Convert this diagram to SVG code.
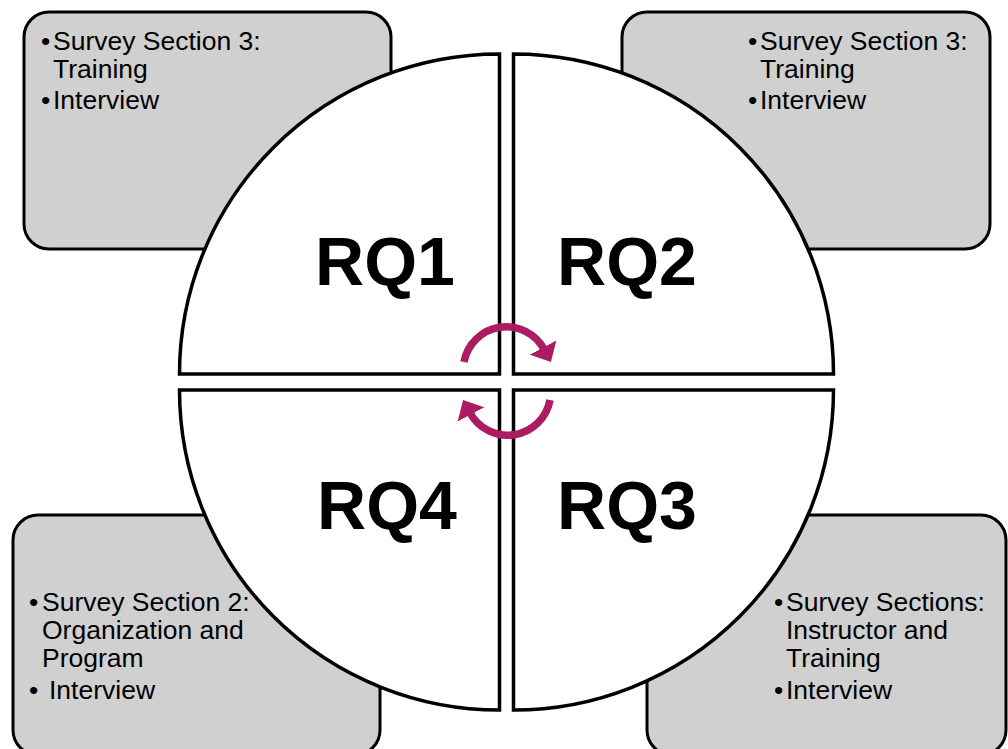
<svg xmlns="http://www.w3.org/2000/svg" width="1008" height="749" viewBox="0 0 1008 749">
<style>
.box{fill:#d0d0d0;stroke:#000;stroke-width:3}
.quad{fill:#fff;stroke:#000;stroke-width:3.5;stroke-linejoin:miter}
.t{font-family:"Liberation Sans",Arial,sans-serif;font-size:26.5px;fill:#000}
.rq{font-family:"Liberation Sans",Arial,sans-serif;font-size:68px;font-weight:bold;fill:#000;text-anchor:middle}
.arc{fill:none;stroke:#ab1c62;stroke-width:7.5}
</style>
<defs>
<marker id="ah" markerWidth="4" markerHeight="4" refX="0.3" refY="2" orient="auto" markerUnits="strokeWidth" viewBox="0 0 4 4">
<path d="M0,0 L2.2,2 L0,4 Z" fill="#ab1c62"/>
</marker>
</defs>
<g id="box-tl"><rect class="box" x="24" y="12" width="367" height="237" rx="25"/>
<text class="t" x="41" y="50">•<tspan x="53">Survey Section 3:</tspan></text>
<text class="t" x="53" y="78">Training</text>
<text class="t" x="41" y="109">•<tspan x="53">Interview</tspan></text></g>
<g id="box-tr"><rect class="box" x="622" y="12" width="368" height="237" rx="25"/>
<text class="t" x="748" y="50">•<tspan x="760">Survey Section 3:</tspan></text>
<text class="t" x="760" y="78">Training</text>
<text class="t" x="748" y="109">•<tspan x="760">Interview</tspan></text></g>
<g id="box-bl"><rect class="box" x="13" y="515" width="367" height="240" rx="25"/>
<text class="t" x="29" y="611">•<tspan x="42">Survey Section 2:</tspan></text>
<text class="t" x="42" y="639">Organization and</text>
<text class="t" x="42" y="667">Program</text>
<text class="t" x="29" y="699">•<tspan x="49">Interview</tspan></text></g>
<g id="box-br"><rect class="box" x="647" y="515" width="359" height="240" rx="25"/>
<text class="t" x="774" y="611">•<tspan x="786">Survey Sections:</tspan></text>
<text class="t" x="786" y="639">Instructor and</text>
<text class="t" x="786" y="667">Training</text>
<text class="t" x="774" y="699">•<tspan x="786">Interview</tspan></text></g>
<g id="rq1"><path class="quad" d="M499.5,374 L499.5,54 A320,320 0 0 0 179.5,374 Z"/><text class="rq" x="385" y="285">RQ1</text></g>
<g id="rq2"><path class="quad" d="M513.5,374 L833.5,374 A320,320 0 0 0 513.5,54 Z"/><text class="rq" x="627" y="285">RQ2</text></g>
<g id="rq3"><path class="quad" d="M513.5,390 L513.5,710 A320,320 0 0 0 833.5,390 Z"/><text class="rq" x="627" y="529">RQ3</text></g>
<g id="rq4"><path class="quad" d="M499.5,390 L179.5,390 A320,320 0 0 0 499.5,710 Z"/><text class="rq" x="387" y="529">RQ4</text></g>
<g id="connectors">
<path class="arc" d="M464,362 A43,43 0 0 1 544.2,349.5" marker-end="url(#ah)"/>
<path class="arc" d="M550,400 A43,43 0 0 1 469.8,412.5" marker-end="url(#ah)"/>
</g>
</svg>
